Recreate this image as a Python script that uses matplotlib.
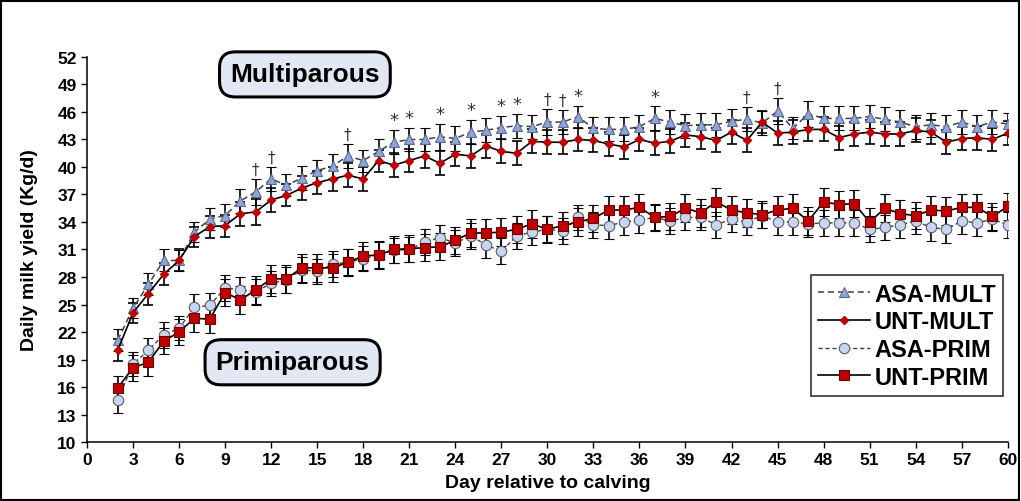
import matplotlib
matplotlib.use("Agg")
from matplotlib import pyplot as plt
from matplotlib.patches import Rectangle
from matplotlib.lines import Line2D

days = list(range(2, 61))

asa_mult = [21.1, 24.6, 27.2, 29.8, 29.8, 32.9, 34.3, 34.7, 36.3, 37.3,
            38.7, 38.0, 38.8, 39.6, 40.1, 41.2, 40.7, 41.7, 42.7, 43.0,
            43.0, 43.3, 43.1, 43.8, 44.0, 44.3, 44.5, 44.4, 44.9, 44.9,
            45.5, 44.2, 44.1, 44.1, 44.4, 45.3, 44.9, 44.5, 44.6, 44.6,
            45.0, 45.2, 44.8, 46.1, 44.2, 45.8, 45.3, 45.3, 45.3, 45.5,
            45.2, 44.9, 44.4, 44.6, 44.4, 44.9, 44.4, 44.9, 44.7]
unt_mult = [20.0, 24.1, 26.2, 28.3, 29.8, 32.4, 33.5, 33.6, 34.9, 35.1,
            36.4, 36.9, 37.7, 38.3, 38.7, 39.1, 38.7, 40.7, 40.2, 40.7,
            41.2, 40.4, 41.4, 41.2, 42.3, 41.7, 41.5, 42.8, 42.7, 42.7,
            43.0, 42.9, 42.5, 42.2, 43.0, 42.6, 42.8, 43.5, 43.3, 42.9,
            43.8, 42.9, 44.9, 43.7, 43.8, 44.1, 44.1, 43.2, 43.6, 43.8,
            43.6, 43.6, 44.0, 43.8, 42.7, 43.1, 43.2, 43.0, 43.7]
asa_prim = [14.6, 18.5, 20.0, 21.7, 22.4, 24.7, 24.9, 26.8, 26.6, 26.4,
            27.3, 27.7, 28.8, 28.6, 29.4, 29.6, 30.0, 30.4, 30.9, 31.0,
            31.8, 32.3, 31.7, 32.5, 31.5, 30.8, 32.5, 32.9, 33.2, 33.0,
            34.5, 33.7, 33.6, 34.0, 34.2, 34.5, 34.1, 34.5, 34.5, 33.7,
            34.3, 34.0, 34.7, 34.0, 34.0, 33.8, 33.9, 33.9, 33.9, 33.2,
            33.4, 33.7, 34.1, 33.4, 33.2, 34.1, 33.9, 34.3, 33.7]
unt_prim = [15.9, 18.1, 18.7, 21.0, 22.0, 23.5, 23.4, 26.3, 25.5, 26.6,
            27.8, 27.8, 29.0, 29.0, 29.0, 29.6, 30.3, 30.4, 31.0, 31.1,
            31.2, 31.3, 32.0, 32.8, 32.8, 32.9, 33.2, 33.8, 33.2, 33.6,
            34.0, 34.4, 35.3, 35.3, 35.6, 34.5, 34.6, 35.5, 35.0, 36.2,
            35.3, 35.0, 34.8, 35.3, 35.5, 34.1, 36.2, 35.9, 36.0, 34.0,
            35.5, 34.9, 34.7, 35.3, 35.2, 35.6, 35.6, 34.6, 35.7]

# standard errors
asa_mult_se = [1.2, 1.1, 1.2, 1.2, 1.1, 1.1, 1.2, 1.3, 1.3, 1.4,
               1.3, 1.2, 1.3, 1.2, 1.3, 1.3, 1.2, 1.3, 1.3, 1.3,
               1.3, 1.4, 1.4, 1.3, 1.3, 1.3, 1.3, 1.3, 1.4, 1.3,
               1.2, 1.3, 1.3, 1.3, 1.3, 1.3, 1.3, 1.3, 1.3, 1.3,
               1.3, 1.3, 1.3, 1.4, 1.2, 1.4, 1.3, 1.3, 1.3, 1.3,
               1.3, 1.3, 1.3, 1.3, 1.3, 1.3, 1.3, 1.3, 1.2]
unt_mult_se = [1.2, 1.1, 1.2, 1.2, 1.2, 1.1, 1.2, 1.2, 1.3, 1.4,
               1.3, 1.2, 1.3, 1.3, 1.3, 1.3, 1.3, 1.2, 1.3, 1.3,
               1.3, 1.3, 1.3, 1.3, 1.3, 1.3, 1.3, 1.3, 1.3, 1.3,
               1.3, 1.3, 1.3, 1.3, 1.3, 1.3, 1.3, 1.3, 1.3, 1.3,
               1.3, 1.3, 1.2, 1.3, 1.3, 1.3, 1.3, 1.3, 1.3, 1.3,
               1.3, 1.3, 1.3, 1.3, 1.3, 1.3, 1.3, 1.3, 1.3]
asa_prim_se = [1.4, 1.3, 1.4, 1.4, 1.3, 1.4, 1.4, 1.4, 1.4, 1.4,
               1.4, 1.4, 1.4, 1.4, 1.4, 1.4, 1.4, 1.4, 1.4, 1.4,
               1.4, 1.4, 1.4, 1.4, 1.4, 1.4, 1.4, 1.4, 1.4, 1.4,
               1.4, 1.4, 1.5, 1.4, 1.4, 1.4, 1.4, 1.4, 1.4, 1.4,
               1.4, 1.4, 1.4, 1.4, 1.4, 1.4, 1.4, 1.4, 1.4, 1.4,
               1.4, 1.4, 1.4, 1.5, 1.5, 1.4, 1.4, 1.3, 1.4]
unt_prim_se = [1.3, 1.4, 1.5, 1.4, 1.4, 1.5, 1.5, 1.5, 1.5, 1.5,
               1.5, 1.5, 1.5, 1.5, 1.5, 1.5, 1.5, 1.5, 1.5, 1.5,
               1.5, 1.5, 1.5, 1.5, 1.5, 1.5, 1.5, 1.5, 1.5, 1.5,
               1.5, 1.5, 1.5, 1.5, 1.5, 1.5, 1.5, 1.5, 1.5, 1.5,
               1.5, 1.5, 1.5, 1.5, 1.5, 1.5, 1.5, 1.5, 1.5, 1.5,
               1.5, 1.5, 1.5, 1.5, 1.5, 1.5, 1.5, 1.5, 1.5]

dagger_days = [11, 12, 17, 30, 31, 43, 45]
star_days = [20, 21, 23, 25, 27, 28, 32, 37]

plt.rcParams['font.family'] = ['Liberation Sans', 'DejaVu Sans']
plt.rcParams['font.weight'] = 'bold'

fig = plt.figure(figsize=(10.21, 5.02), dpi=100)
ax = fig.add_axes([0.0852, 0.1175, 0.9018, 0.767])
fig.patches.append(Rectangle((0.001, 0.001), 0.997, 0.996, transform=fig.transFigure,
                             fill=False, edgecolor='black', linewidth=1.5))

red = '#c00000'
err = dict(ecolor='black', elinewidth=1.2, capsize=3.5, capthick=1.2, zorder=2)

styles = {
    'ASA-MULT': dict(color='#404040', linestyle=(0, (4, 2.5)), linewidth=1.1, marker='^',
                     markersize=7, markerfacecolor='#8fa4d8', markeredgecolor='#5a6a90',
                     markeredgewidth=0.8),
    'UNT-MULT': dict(color='black', linestyle='-', linewidth=1.2, marker='D',
                     markersize=4.5, markerfacecolor=red, markeredgecolor=red),
    'ASA-PRIM': dict(color='#404040', linestyle=(0, (3, 2)), linewidth=1.0, marker='o',
                     markersize=7.5, markerfacecolor='#c9d5ee', markeredgecolor='#5a6070',
                     markeredgewidth=0.8),
    'UNT-PRIM': dict(color='black', linestyle='-', linewidth=1.2, marker='s',
                     markersize=7, markerfacecolor=red, markeredgecolor='#700000',
                     markeredgewidth=0.8),
}

ax.errorbar(days, asa_mult, yerr=asa_mult_se, **styles['ASA-MULT'], **err)
ax.errorbar(days, unt_mult, yerr=unt_mult_se, **styles['UNT-MULT'], **err)
ax.errorbar(days, asa_prim, yerr=asa_prim_se, **styles['ASA-PRIM'], **err)
ax.errorbar(days, unt_prim, yerr=unt_prim_se, **styles['UNT-PRIM'], **err)

for d in dagger_days:
    i = days.index(d)
    ax.text(d, asa_mult[i] + asa_mult_se[i] + 0.25, '\u2020', ha='center', va='bottom',
            fontsize=11, color='#333333', fontweight='normal', family='DejaVu Sans')
for d in star_days:
    i = days.index(d)
    ax.text(d, asa_mult[i] + asa_mult_se[i] + 0.1, '*', ha='center', va='bottom',
            fontsize=13, color='#333333', fontweight='normal', family='DejaVu Sans')

box = dict(boxstyle='round,pad=0.4,rounding_size=0.6', facecolor='#e2e8f3',
           edgecolor='black', linewidth=2.2)
ax.text(14.2, 50.1, 'Multiparous', ha='center', va='center', fontsize=19,
        fontweight='bold', bbox=box)
ax.text(13.4, 18.7, 'Primiparous', ha='center', va='center', fontsize=19,
        fontweight='bold', bbox=box)

ax.set_xlim(0, 60)
ax.set_ylim(10, 52)
ax.set_xticks(range(0, 61, 3))
ax.set_yticks(range(10, 53, 3))
ax.tick_params(axis='both', direction='out', length=4, width=1, labelsize=12.5)
for lab in ax.get_xticklabels() + ax.get_yticklabels():
    lab.set_fontweight('bold')
ax.spines['top'].set_visible(False)
ax.spines['right'].set_visible(False)
ax.spines['left'].set_linewidth(1.1)
ax.spines['bottom'].set_linewidth(1.1)
ax.set_xlabel('Day relative to calving', fontsize=14, fontweight='bold', labelpad=5)
ax.set_ylabel('Daily milk yield (Kg/d)', fontsize=14, fontweight='bold', labelpad=14)

handles = [Line2D([], [], **styles[k]) for k in styles]
leg = ax.legend(handles, list(styles), loc='lower right', bbox_to_anchor=(0.995, 0.12),
                frameon=True, fancybox=False, edgecolor='black', fontsize=17,
                handlelength=2.2, handletextpad=0.2, borderpad=0.3, labelspacing=0.2,
                borderaxespad=0)
leg.get_frame().set_linewidth(1.2)
for t in leg.get_texts():
    t.set_fontweight('bold')

fig.savefig('out.png', dpi=100)
